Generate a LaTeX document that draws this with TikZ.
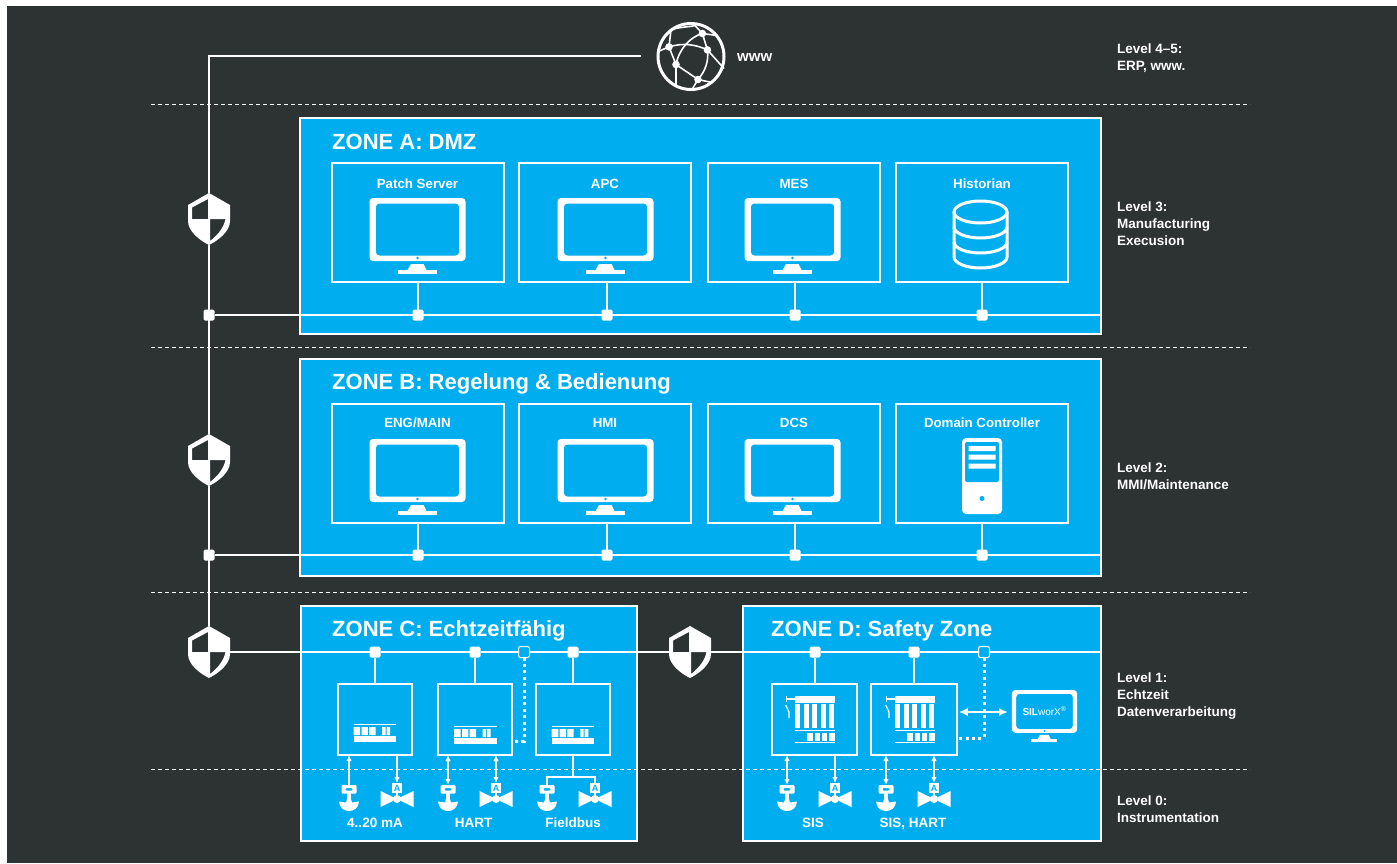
\documentclass[tikz,border=0pt]{standalone}
\usepackage{fontspec}
\setmainfont{Liberation Sans}
\usetikzlibrary{arrows.meta}
\definecolor{darkbg}{HTML}{2D3233}
\definecolor{zoneblue}{HTML}{00AEEF}
\tikzstyle{zone}=[draw=white,line width=2pt,fill=zoneblue,inner sep=0pt,outer sep=0pt]
\tikzstyle{cell}=[draw=white,line width=2pt,inner sep=0pt,outer sep=0pt]
\tikzstyle{junc}=[fill=white,rounded corners=1.5pt,minimum size=11pt,inner sep=0pt,outer sep=0pt]
\tikzstyle{hollow}=[draw=white,line width=1pt,fill=zoneblue,rounded corners=2pt,minimum size=11pt,inner sep=0pt,outer sep=0pt]
\tikzstyle{link}=[draw=white,line width=2.4pt]
\tikzstyle{thin link}=[draw=white,line width=1.8pt]
\tikzstyle{dots}=[draw=white,line width=3pt,dash pattern=on 3pt off 3.4pt]
\tikzstyle{level line}=[draw=white,line width=0.9pt,dash pattern=on 4pt off 3pt]
\tikzstyle{arrow both}=[thin link,{Latex[length=6pt,width=5.5pt]}-{Latex[length=6pt,width=5.5pt]}]
\tikzstyle{arrow wide}=[draw=white,line width=2pt,{Latex[length=9pt,width=8pt]}-{Latex[length=9pt,width=8pt]}]
\tikzstyle{arrow up}=[thin link,{Latex[length=6pt,width=5.5pt]}-]
\tikzstyle{arrow down}=[thin link,-{Latex[length=6pt,width=5.5pt]}]
\tikzstyle{title}=[text=white,anchor=base west,inner sep=0pt,font=\bfseries\fontsize{22}{24}\selectfont]
\tikzstyle{head}=[text=white,anchor=base,inner sep=0pt,font=\bfseries\fontsize{13.3}{15}\selectfont]
\tikzstyle{tag}=[text=white,anchor=base,inner sep=0pt,font=\bfseries\fontsize{13.5}{15}\selectfont]
\tikzstyle{leveltext}=[text=white,anchor=west,align=left,inner sep=0pt,font=\bfseries\fontsize{13.5}{17}\selectfont]
\newcommand{\screenicon}[3][1]{% top centre of the screen at #2,#3
  \begin{scope}[shift={(#2,#3)},scale=#1]
    \fill[white,even odd rule,rounded corners=3.5pt] (-48,0) rectangle (48,63)
      (-41.7,5.5) rectangle (41.7,57.5);
    \fill[zoneblue] (0,60) circle (1.4);
    \fill[white] (-6.5,66) -- (6,66) -- (9,72) -- (-10,72) -- cycle;
    \fill[white] (-19.5,72) rectangle (19,76);
  \end{scope}}
\newcommand{\shieldicon}[2]{%
  \begin{scope}[shift={(#1,#2)}]
    \fill[darkbg] (0,-26) -- (21,-14) -- (21,2) .. controls (21,12) and (10,21) .. (0,26)
      .. controls (-10,21) and (-21,12) .. (-21,2) -- (-21,-14) -- cycle;
    \fill[white,even odd rule] (0,-26) -- (21,-14) -- (21,2) .. controls (21,12) and (10,21) .. (0,26)
      .. controls (-10,21) and (-21,12) .. (-21,2) -- (-21,-14) -- cycle
      (-1,-20) -- (-1,0) -- (-17,0) -- (-17,-11.5) -- cycle
      (1,22) -- (1,0) -- (16.5,0) .. controls (15,8) and (9,16) .. (1,22) -- cycle;
  \end{scope}}
\newcommand{\sensoricon}[2]{% x, top of the head
  \begin{scope}[shift={(#1,#2)}]
    \fill[white,rounded corners=1pt,even odd rule] (-7.5,0) rectangle (7.5,8.5) (-3.5,3) rectangle (3.5,5.5);
    \fill[white] (-2,8) rectangle (2,15);
    \fill[white] (-10,16.5) -- (-3,17.5) -- (-2,14) -- (2,14) -- (3,17.5) -- (10,16.5)
      .. controls (9.5,23) and (5,26) .. (0,26) .. controls (-5,26) and (-9.5,23) .. (-10,16.5) -- cycle;
  \end{scope}}
\newcommand{\valveicon}[2]{% x, top of the flag
  \begin{scope}[shift={(#1,#2)}]
    \fill[white] (-5,0) rectangle (5,10);
    \node[text=zoneblue,inner sep=0pt,font=\bfseries\fontsize{9}{9}\selectfont] at (0,5) {A};
    \fill[white] (-1,10) rectangle (1,16);
    \fill[white] (-16.5,8) -- (0,16) -- (16.5,8) -- (16.5,24) -- (0,16) -- (-16.5,24) -- cycle;
    \fill[white] (0,16) circle (4);
  \end{scope}}
\newcommand{\rackicon}[2]{% small controller, top left of the upper line
  \begin{scope}[shift={(#1,#2)}]
    \fill[white] (0,0) rectangle (42.5,0.9);
    \fill[white] (0,3) rectangle (6.7,11) (8,3) rectangle (14.3,11) (15.7,3) rectangle (22,11)
      (28.7,3) rectangle (32,11) (33,3) rectangle (36.7,11);
    \fill[white] (0,12.4) rectangle (42.5,17.7);
  \end{scope}}
\newcommand{\safetyicon}[2]{% safety controller, top left of the bar
  \begin{scope}[shift={(#1,#2)}]
    \fill[white] (0,0) rectangle (40,6.7);
    \draw[white,line width=1.2pt] (-8.3,0) -- (-8.3,6) (-8.3,3) -- (0,3);
    \draw[white,line width=1.2pt] (-9.3,9) -- (-6,16) -- (-6,22);
    \foreach \i in {0,1,2,3,4} \fill[white] (\i*8.6,8) rectangle ++(5,24);
    \fill[white] (0,33.8) rectangle (40,34.8);
    \foreach \i in {12.3,19.7,27,34.3} \fill[white] (\i,36.7) rectangle ++(5.3,8);
    \fill[white] (0,45.8) rectangle (40,46.8);
  \end{scope}}
\begin{document}
\begin{tikzpicture}[x=1pt,y=-1pt]
  \useasboundingbox (0,0) rectangle (1397,863);
  \fill[white] (0,0) rectangle (1397,863);
  \fill[darkbg] (7,6) rectangle (1397,863);

  % zones
  \node[zone,minimum width=801pt,minimum height=216pt] (zoneA) at (700.5,226) {};
  \node[zone,minimum width=801pt,minimum height=217pt] (zoneB) at (700.5,467.5) {};
  \node[zone,minimum width=336pt,minimum height=235pt] (zoneC) at (469,723.5) {};
  \node[zone,minimum width=358pt,minimum height=235pt] (zoneD) at (922,723.5) {};
  \node[title] (titleA) at (332,149) {ZONE A: DMZ};
  \node[title] (titleB) at (332,389) {ZONE B: Regelung \& Bedienung};
  \node[title] (titleC) at (332,636) {ZONE C: Echtzeitfähig};
  \node[title] (titleD) at (771,636) {ZONE D: Safety Zone};

  % cells of zones A and B
  \node[cell,minimum width=172pt,minimum height=119pt] (patch) at (417.5,222.5) {};
  \node[cell,minimum width=172pt,minimum height=119pt] (apc) at (605,222.5) {};
  \node[cell,minimum width=172pt,minimum height=119pt] (mes) at (794,222.5) {};
  \node[cell,minimum width=172pt,minimum height=119pt] (hist) at (982,222.5) {};
  \node[cell,minimum width=172pt,minimum height=119pt] (eng) at (417.5,463.5) {};
  \node[cell,minimum width=172pt,minimum height=119pt] (hmi) at (605,463.5) {};
  \node[cell,minimum width=172pt,minimum height=119pt] (dcs) at (794,463.5) {};
  \node[cell,minimum width=172pt,minimum height=119pt] (dom) at (982,463.5) {};
  \node[head] (patchlabel) at (417.5,188) {Patch Server};
  \node[head] (apclabel) at (605,188) {APC};
  \node[head] (meslabel) at (794,188) {MES};
  \node[head] (histlabel) at (982,188) {Historian};
  \node[head] (englabel) at (417.5,427) {ENG/MAIN};
  \node[head] (hmilabel) at (605,427) {HMI};
  \node[head] (dcslabel) at (794,427) {DCS};
  \node[head] (domlabel) at (982,427) {Domain Controller};

  % cells of zones C and D
  \node[cell,minimum width=74.5pt,minimum height=71pt] (c1) at (375,719.5) {};
  \node[cell,minimum width=74.5pt,minimum height=71pt] (c2) at (475,719.5) {};
  \node[cell,minimum width=74.5pt,minimum height=71pt] (c3) at (573,719.5) {};
  \node[cell,minimum width=85.5pt,minimum height=71pt] (d1) at (814.5,719.5) {};
  \node[cell,minimum width=85.5pt,minimum height=71pt] (d2) at (914,719.5) {};

  % icons
  \screenicon{417.5}{198}
  \screenicon{605.5}{198}
  \screenicon{792.5}{198}
  \screenicon{417.5}{439}
  \screenicon{605.5}{439}
  \screenicon{792.5}{439}
  \begin{scope}[white,line width=3pt]
    \draw (954,212) -- (954,257) arc[start angle=180,end angle=0,x radius=26.5,y radius=11] -- (1007,212);
    \draw (980.5,212) ellipse (26.5 and 11);
    \draw (954,227) arc[start angle=180,end angle=0,x radius=26.5,y radius=11];
    \draw (954,242) arc[start angle=180,end angle=0,x radius=26.5,y radius=11];
  \end{scope}
  \fill[white,rounded corners=4pt] (962,438) rectangle (1002,514);
  \fill[zoneblue,rounded corners=2pt] (965,442) rectangle (999,482);
  \fill[white] (968.7,446) rectangle (995.7,451) (968.7,454.5) rectangle (995.7,459.5) (968.7,463.5) rectangle (995.7,468.5);
  \fill[zoneblue] (982,498.5) circle (2.5);
  \rackicon{353.5}{724}
  \rackicon{454}{726}
  \rackicon{551.7}{726}
  \safetyicon{795}{696}
  \safetyicon{895}{696}
  \screenicon[0.68]{1044.5}{690}
  \node[text=white,inner sep=0pt,font=\fontsize{10}{10}\selectfont] (silworx) at (1044.5,711) {\textbf{SIL}worX\textsuperscript{®}};

  % network
  \node[junc] (jtopA) at (209,315) {};
  \node[junc] (jtopB) at (209,555) {};
  \node[junc] (ja1) at (418,315) {};
  \node[junc] (ja2) at (607,315) {};
  \node[junc] (ja3) at (795,315) {};
  \node[junc] (ja4) at (982,315) {};
  \node[junc] (jb1) at (418,555) {};
  \node[junc] (jb2) at (607,555) {};
  \node[junc] (jb3) at (795,555) {};
  \node[junc] (jb4) at (982,555) {};
  \node[junc] (jc1) at (375,652) {};
  \node[junc] (jc2) at (475,652) {};
  \node[hollow] (jc3) at (524,652) {};
  \node[junc] (jc4) at (573,652) {};
  \node[junc] (jd1) at (815,652) {};
  \node[junc] (jd2) at (914,652) {};
  \node[hollow] (jd3) at (984,652) {};
  \coordinate (busC) at (209,652);
  \coordinate (busAend) at (1101,315);
  \coordinate (busBend) at (1101,555);
  \coordinate (busCend) at (1101,652);
  \coordinate (corner) at (209,56);
  \coordinate (wwwin) at (641,56);

  \draw[link] (wwwin) -- (corner) -- (busC);
  \draw[link] (jtopA) -- (busAend);
  \draw[link] (jtopB) -- (busBend);
  \draw[link] (busC) -- (jc1) -- (jc2) -- (jc3) -- (jc4) -- (jd1) -- (jd2) -- (jd3) -- (busCend);
  \draw[link] (ja1) -- (ja1 |- patch.south);
  \draw[link] (ja2) -- (ja2 |- apc.south);
  \draw[link] (ja3) -- (ja3 |- mes.south);
  \draw[link] (ja4) -- (ja4 |- hist.south);
  \draw[link] (jb1) -- (jb1 |- eng.south);
  \draw[link] (jb2) -- (jb2 |- hmi.south);
  \draw[link] (jb3) -- (jb3 |- dcs.south);
  \draw[link] (jb4) -- (jb4 |- dom.south);
  \draw[link] (jc1) -- (c1.north);
  \draw[link] (jc2) -- (c2.north);
  \draw[link] (jc4) -- (c3.north);
  \draw[link] (jd1) -- (jd1 |- d1.north);
  \draw[link] (jd2) -- (jd2 |- d2.north);

  % dotted service links
  \coordinate (dotC) at (524,741);
  \coordinate (dotD) at (984,738);
  \draw[dots] (jc3.south) -- (dotC) -- (c2.east |- dotC);
  \draw[dots] (jd3.south) -- (dotD) -- (d2.east |- dotD);

  % shields
  \shieldicon{209}{219}
  \shieldicon{209}{460}
  \shieldicon{209}{652}
  \shieldicon{690}{652}

  % level lines
  \foreach \y in {104,347,592,769}
    \draw[level line] (151,\y) -- (1250,\y);

  % field devices
  \coordinate (s1) at (349,785);
  \coordinate (v1) at (397,783);
  \coordinate (s2) at (448,785);
  \coordinate (v2) at (496,783);
  \coordinate (s3) at (547,785);
  \coordinate (v3) at (595,783);
  \coordinate (s4) at (787,785);
  \coordinate (v4) at (835,783);
  \coordinate (s5) at (886,785);
  \coordinate (v5) at (934,783);
  \sensoricon{349}{785}
  \valveicon{397}{783}
  \sensoricon{448}{785}
  \valveicon{496}{783}
  \sensoricon{547}{785}
  \valveicon{595}{783}
  \sensoricon{787}{785}
  \valveicon{835}{783}
  \sensoricon{886}{785}
  \valveicon{934}{783}
  \draw[arrow up] (c1.south -| s1) -- (s1);
  \draw[arrow down] (c1.south -| v1) -- (v1);
  \draw[arrow both] (c2.south -| s2) -- (s2);
  \draw[arrow both] (c2.south -| v2) -- (v2);
  \coordinate (fork) at (573,777);
  \draw[thin link] (c3.south) -- (fork);
  \draw[thin link] (s3) |- (fork) -| (v3);
  \draw[arrow both] (d1.south -| s4) -- (s4);
  \draw[arrow down] (d1.south -| v4) -- (v4);
  \draw[arrow both] (d2.south -| s5) -- (s5);
  \draw[arrow both] (d2.south -| v5) -- (v5);
  \coordinate (silin) at (1008,712);
  \draw[arrow wide] (d2.east |- silin) ++(2,0) -- (silin);

  \node[tag] (taga) at (375,827) {4..20 mA};
  \node[tag] (tagb) at (473.5,827) {HART};
  \node[tag] (tagc) at (573,827) {Fieldbus};
  \node[tag] (tagd) at (813,827) {SIS};
  \node[tag] (tage) at (913,827) {SIS, HART};

  % globe
  \begin{scope}[shift={(691,56.5)},white,line width=1.6pt]
    \draw[line width=3pt] (0,0) circle (33);
    \coordinate (g1) at (-22,-9.6);
    \coordinate (g2) at (11.4,-23);
    \coordinate (g3) at (16.4,-6.6);
    \coordinate (g4) at (-15,8);
    \coordinate (g5) at (7,23);
    \foreach \g in {g1,g2,g3,g4,g5} \fill (\g) circle (3.8);
    \draw (g1) .. controls (-8,-14) and (5,-12) .. (g3);
    \draw (g4) .. controls (-12,-8) and (0,-20) .. (g2);
    \draw (g2) -- (g3);
    \draw (g1) -- (g4) -- (g5);
    \draw (g3) .. controls (18,5) and (14,15) .. (g5);
    \draw (g1) -- (-20,-27);
    \draw (-20,-27) .. controls (-8,-30) and (3,-30) .. (4,-31);
    \draw (4,-31) -- (g2) -- (26,-21);
    \draw (g3) -- (33,12);
    \draw (g1) -- (-33,-5);
    \draw (g4) -- (-15,29);
    \draw (g5) -- (1,33) (g5) -- (21,26);
  \end{scope}
  \node[text=white,anchor=base west,inner sep=0pt,font=\bfseries\fontsize{15}{16}\selectfont] (www) at (737,61) {www};

  % levels
  \node[leveltext] (lvl45) at (1117,58) {Level 4–5:\\ERP, www.};
  \node[leveltext] (lvl3) at (1117,224) {Level 3:\\Manufacturing\\Execusion};
  \node[leveltext] (lvl2) at (1117,476.5) {Level 2:\\MMI/Maintenance};
  \node[leveltext] (lvl1) at (1117,696) {Level 1:\\Echtzeit\\Datenverarbeitung};
  \node[leveltext] (lvl0) at (1117,809.5) {Level 0:\\Instrumentation};
\end{tikzpicture}
\end{document}
